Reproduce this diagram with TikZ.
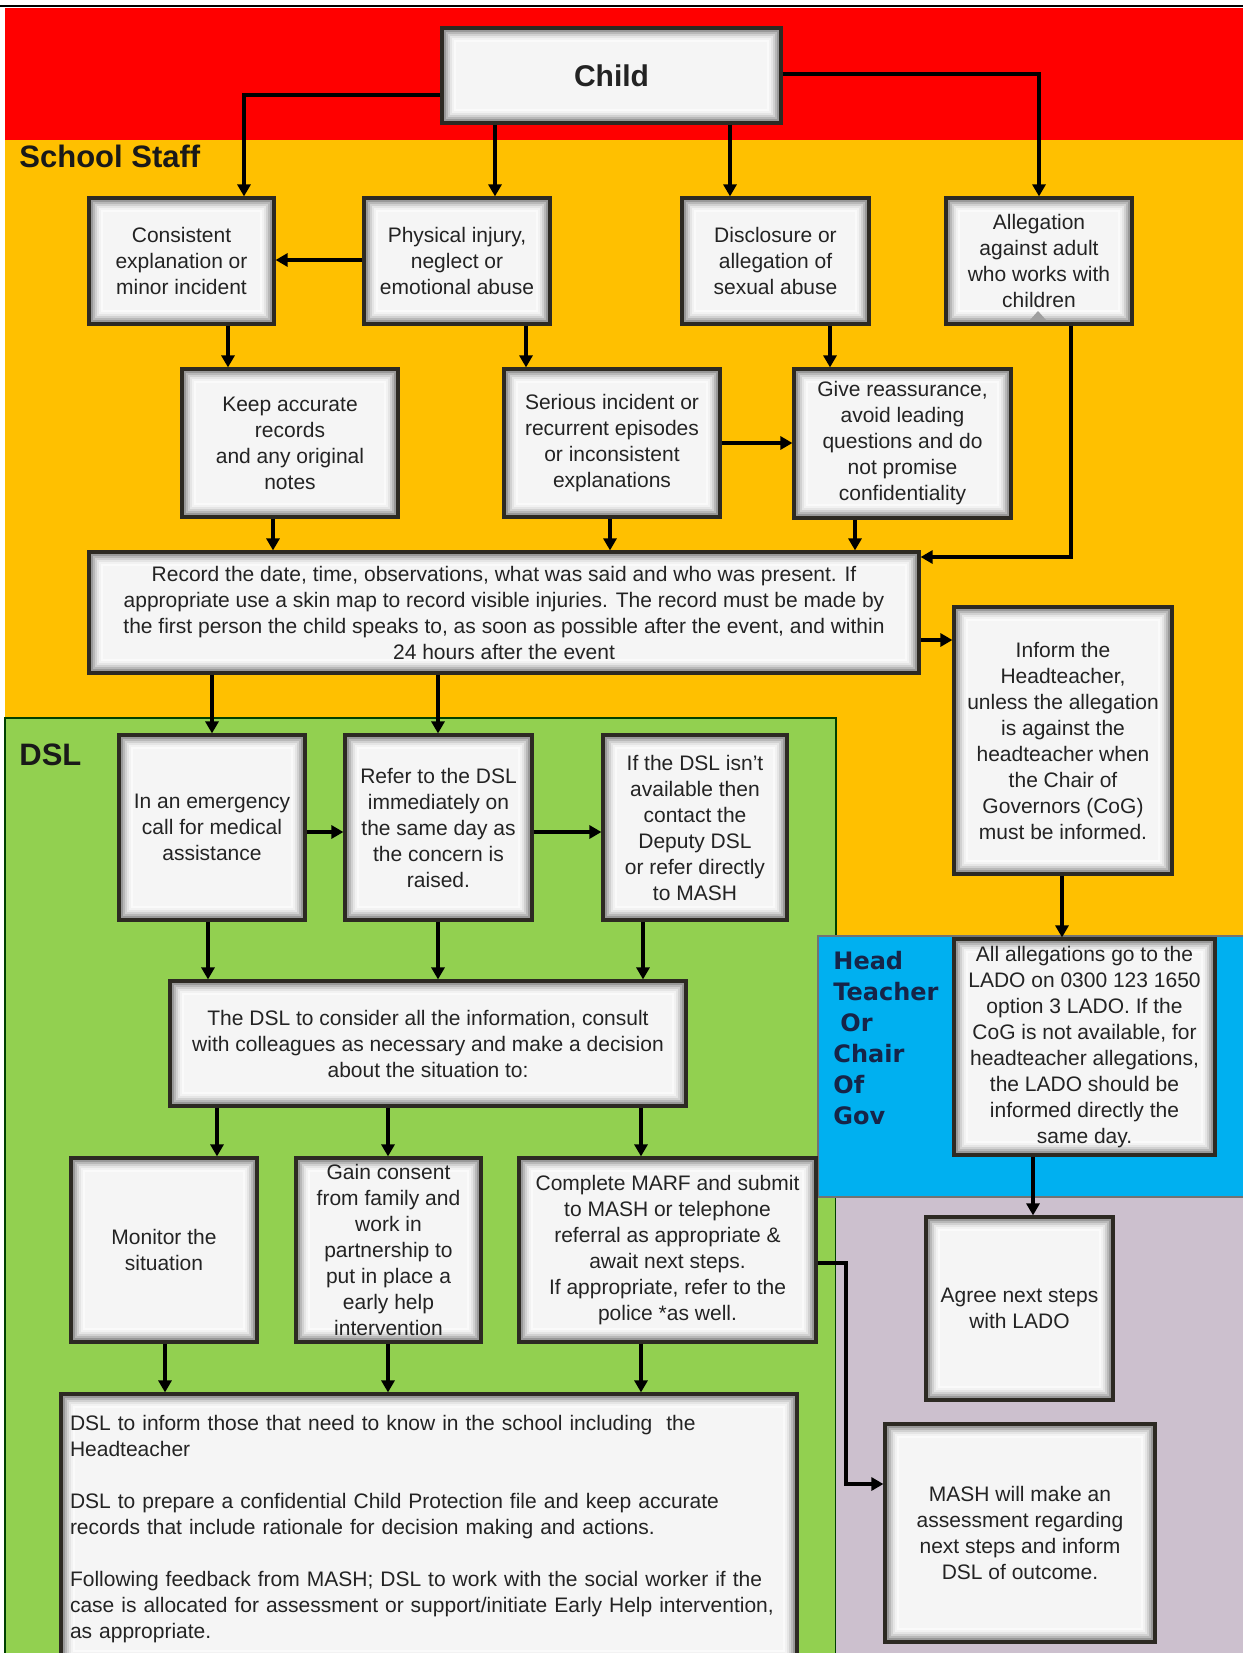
\documentclass[tikz,border=0pt]{standalone}
\usepackage{fontspec}
\setmainfont{Liberation Sans}
\newfontfamily\htfont{DejaVu Sans}
\usetikzlibrary{arrows.meta}
\definecolor{cRed}{RGB}{255,0,0}
\definecolor{cOrange}{RGB}{255,192,0}
\definecolor{cGreen}{RGB}{146,208,80}
\definecolor{cBlue}{RGB}{0,176,240}
\definecolor{cLav}{RGB}{204,192,206}
\definecolor{cNavy}{RGB}{22,36,72}
\definecolor{boxfill}{RGB}{245,245,245}
\definecolor{boxline}{RGB}{45,42,35}
\definecolor{txt}{RGB}{35,35,35}
\newcommand\flowbox[6]{\node[flowbox, minimum width={(#4-#2)*0.5pt}, minimum height={(#5-#3)*0.5pt}] (#1) at ({(#2+#4)/2},{(#3+#5)/2}) {#6};}
\begin{document}
\begin{tikzpicture}[x=0.5pt,y=-0.5pt,
  flowbox/.style={draw=boxline, line width=1.6pt, fill=boxfill, inner sep=2pt, align=center, text=txt,
    font=\fontsize{10.5}{13}\selectfont,
    path picture={\foreach \dd/\cc in {0.5/55,1.5/40,2.5/28,3.5/18,4.5/10,5.5/5,6.5/2}{
      \draw[line width=1pt, black!\cc] ([xshift=\dd pt,yshift=-\dd pt]path picture bounding box.north west) rectangle ([xshift=-\dd pt,yshift=\dd pt]path picture bounding box.south east);}}},
  arr/.style={draw=black, line width=1.7pt, -{Triangle[length=6pt,width=6.5pt]}},
  heading/.style={anchor=base west, inner sep=0pt, text=black!90, font=\fontsize{15.5}{18}\selectfont\bfseries}]
\useasboundingbox (0,0) rectangle (1243,1653);
% regions
\fill[white] (0,0) rectangle (1243,1653);
\fill[cOrange] (5,140) rectangle (1243,1653);
\fill[cRed] (5,8) rectangle (1243,140);
\draw[line width=1pt] (0,6) -- (1243,6);
\fill[cGreen] (5,718) rectangle (836,1653);
\draw[green!25!black, line width=0.8pt] (5,1653) |- (836,718) -- (836,1653);
\fill[cLav] (836,1197) rectangle (1243,1653);
\fill[cBlue] (818,936) rectangle (1243,1197);
\draw[black!55, line width=0.8pt] (1243,936) -| (818,1197) -- (1243,1197);
% headings
\node[heading] (lblstaff) at (19,168) {School Staff};
\node[heading] (lbldsl) at (19,765) {DSL};
\node[anchor=north west, align=left, inner sep=0pt, text=cNavy, font=\htfont\bfseries\fontsize{12}{15.5}\selectfont] (lblhead) at (833,951) {Head\\Teacher\\\hspace{3.5pt}Or\\Chair\\Of\\Gov};
% boxes
\node[flowbox, minimum width={339*0.5pt}, minimum height={95*0.5pt}, font=\fontsize{15}{18}\selectfont\bfseries] (child) at (611.5,75.5) {Child};
\flowbox{cons}{89}{198}{274}{324}{Consistent\\explanation or\\minor incident}
\flowbox{phys}{364}{198}{550}{324}{Physical injury,\\neglect or\\emotional abuse}
\flowbox{disc}{682}{198}{869}{324}{Disclosure or\\allegation of\\sexual abuse}
\flowbox{alleg}{946}{198}{1132}{324}{Allegation\\against adult\\who works with\\children}
\flowbox{keep}{182}{369}{398}{517}{Keep accurate\\records\\and any original\\notes}
\flowbox{serious}{504}{369}{720}{517}{Serious incident or\\recurrent episodes\\or inconsistent\\explanations}
\flowbox{give}{794}{369}{1011}{518}{Give reassurance,\\avoid leading\\questions and do\\not promise\\confidentiality}
\flowbox{record}{89}{552}{919}{673}{Record the date, time, observations, what was said and who was present. If\\appropriate use a skin map to record visible injuries. The record must be made by\\the first person the child speaks to, as soon as possible after the event, and within\\24 hours after the event}
\flowbox{inform}{954}{607}{1172}{874}{Inform the\\Headteacher,\\unless the allegation\\is against the\\headteacher when\\the Chair of\\Governors (CoG)\\must be informed.}
\flowbox{emerg}{119}{735}{305}{920}{In an emergency\\call for medical\\assistance}
\flowbox{refer}{345}{735}{532}{920}{Refer to the DSL\\immediately on\\the same day as\\the concern is\\raised.}
\flowbox{ifdsl}{603}{735}{787}{920}{If the DSL isn’t\\available then\\contact the\\Deputy DSL\\or refer directly\\to MASH}
\flowbox{consider}{170}{981}{686}{1106}{The DSL to consider all the information, consult\\with colleagues as necessary and  make a decision\\about the situation to:}
\flowbox{lado}{954}{939}{1215}{1155}{All allegations go to the\\LADO on 0300 123 1650\\option 3 LADO. If the\\CoG is not available, for\\headteacher allegations,\\the LADO should be\\informed directly the\\same day.}
\flowbox{monitor}{71}{1158}{257}{1342}{Monitor the\\situation}
\flowbox{gain}{296}{1158}{481}{1342}{Gain consent\\from family and\\work in\\partnership to\\put in place a\\early help\\intervention}
\flowbox{marf}{519}{1158}{816}{1342}{Complete MARF and submit\\to MASH or telephone\\referral as appropriate \&\\await next steps.\\If appropriate, refer to the\\police *as well.}
\flowbox{agree}{926}{1217}{1113}{1400}{Agree next steps\\with LADO}
\flowbox{mash}{885}{1424}{1155}{1642}{MASH will make an\\assessment regarding\\next steps and inform\\DSL of outcome.}
\node[flowbox, align=left, inner sep=0pt, text width=359pt, minimum width={736*0.5pt}, minimum height={270*0.5pt}] (dslinfo) at (429,1529) {DSL to inform those that need to know in the school including \ the\\Headteacher\\[13pt]DSL to prepare a confidential Child Protection file and keep accurate\\records that include rationale for decision making and actions.\\[13pt]Following feedback from MASH; DSL to work with the social worker if the\\case is allocated for assessment or support/initiate Early Help intervention,\\as appropriate.};
\fill[gray!75] (1030,320) -- (1046,320) -- (1038,311) -- cycle;
% connectors
\draw[arr] (child.west |- 0,95) -| (244,0 |- cons.north);
\draw[arr] (495,0 |- child.south) -- (495,0 |- phys.north);
\draw[arr] (730,0 |- child.south) -- (730,0 |- disc.north);
\draw[arr] (child.east |- 0,74) -| (1039,0 |- alleg.north);
\draw[arr] (phys.west |- 0,260) -- (cons.east |- 0,260);
\draw[arr] (228,0 |- cons.south) -- (228,0 |- keep.north);
\draw[arr] (526,0 |- phys.south) -- (526,0 |- serious.north);
\draw[arr] (830,0 |- disc.south) -- (830,0 |- give.north);
\draw[arr] (serious.east |- 0,443) -- (give.west |- 0,443);
\draw[arr] (1071,0 |- alleg.south) |- (record.east |- 0,557);
\draw[arr] (273,0 |- keep.south) -- (273,0 |- record.north);
\draw[arr] (610,0 |- serious.south) -- (610,0 |- record.north);
\draw[arr] (855,0 |- give.south) -- (855,0 |- record.north);
\draw[arr] (record.east |- 0,640) -- (inform.west |- 0,640);
\draw[arr] (212,0 |- record.south) -- (212,0 |- emerg.north);
\draw[arr] (438,0 |- record.south) -- (438,0 |- refer.north);
\draw[arr] (emerg.east |- 0,832) -- (refer.west |- 0,832);
\draw[arr] (refer.east |- 0,832) -- (ifdsl.west |- 0,832);
\draw[arr] (208,0 |- emerg.south) -- (208,0 |- consider.north);
\draw[arr] (438,0 |- refer.south) -- (438,0 |- consider.north);
\draw[arr] (643,0 |- ifdsl.south) -- (643,0 |- consider.north);
\draw[arr] (217,0 |- consider.south) -- (217,0 |- monitor.north);
\draw[arr] (388,0 |- consider.south) -- (388,0 |- gain.north);
\draw[arr] (641,0 |- consider.south) -- (641,0 |- marf.north);
\draw[arr] (165,0 |- monitor.south) -- (165,0 |- dslinfo.north);
\draw[arr] (388,0 |- gain.south) -- (388,0 |- dslinfo.north);
\draw[arr] (641,0 |- marf.south) -- (641,0 |- dslinfo.north);
\draw[arr] (1062,0 |- inform.south) -- (1062,0 |- lado.north);
\draw[arr] (1033,0 |- lado.south) -- (1033,0 |- agree.north);
\draw[arr] (marf.east |- 0,1263) -| (846,1484) -- (mash.west |- 0,1484);
\end{tikzpicture}
\end{document}
